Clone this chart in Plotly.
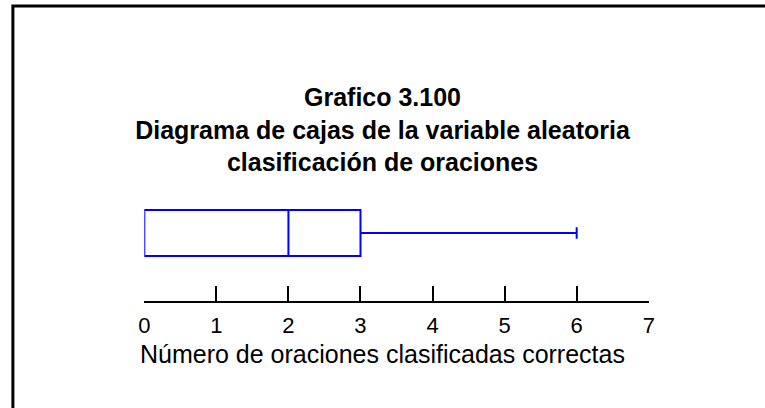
import plotly.graph_objects as go

# Resumen de cinco números (número de oraciones clasificadas correctas)
q1 = [0]
median = [2]
q3 = [3]
lower_fence = [0]
upper_fence = [6]
tick_values = [0, 1, 2, 3, 4, 5, 6, 7]
x_title = "Número de oraciones clasificadas correctas"

W, H = 765, 408

fig = go.Figure()

fig.add_trace(
    go.Box(
        y=[0],
        q1=q1,
        median=median,
        q3=q3,
        lowerfence=lower_fence,
        upperfence=upper_fence,
        orientation="h",
        width=1,
        whiskerwidth=0.25,
        boxpoints=False,
        fillcolor="rgba(255,255,255,0)",
        line=dict(color="#0000ff", width=2),
        hoverinfo="skip",
        showlegend=False,
    )
)

# marco alrededor de la figura
fig.add_shape(
    type="rect",
    xref="paper", yref="paper",
    x0=7 / W, x1=1.02, y0=-0.02, y1=1 - 6 / H,
    line=dict(color="black", width=3),
)

# título del eje, centrado en la figura
fig.add_annotation(
    text=x_title,
    xref="paper", yref="paper",
    x=0.5, y=1 - 354 / H,
    xanchor="center", yanchor="middle",
    showarrow=False,
    font=dict(size=25),
)

fig.update_layout(
    width=W,
    height=H,
    margin=dict(l=0, r=0, t=0, b=0),
    paper_bgcolor="white",
    plot_bgcolor="white",
    font=dict(family="Liberation Sans, Arial, sans-serif", color="black"),
    title=dict(
        text="<b>Grafico 3.100<br>Diagrama de cajas de la variable aleatoria<br>clasificación de oraciones</b>",
        x=0.5,
        xanchor="center",
        y=1 - 106 / H,
        yanchor="middle",
        font=dict(size=25, color="black"),
    ),
    xaxis=dict(
        domain=[140.5 / W, 653 / W],
        range=[0, 7],
        tickvals=tick_values,
        ticks="inside",
        ticklen=15,
        tickwidth=2,
        tickcolor="black",
        showline=True,
        linecolor="black",
        linewidth=2,
        showgrid=False,
        zeroline=False,
        anchor="free",
        position=1 - 302 / H,
        tickfont=dict(size=22),
        ticklabelstandoff=4,
    ),
    yaxis=dict(
        domain=[1 - 279 / H, 1 - 187 / H],
        range=[-1, 1],
        visible=False,
    ),
)

fig.write_html(
    "out.html",
    config={"displayModeBar": False},
    post_script="document.body.style.margin='0';document.body.style.overflow='hidden';",
)
